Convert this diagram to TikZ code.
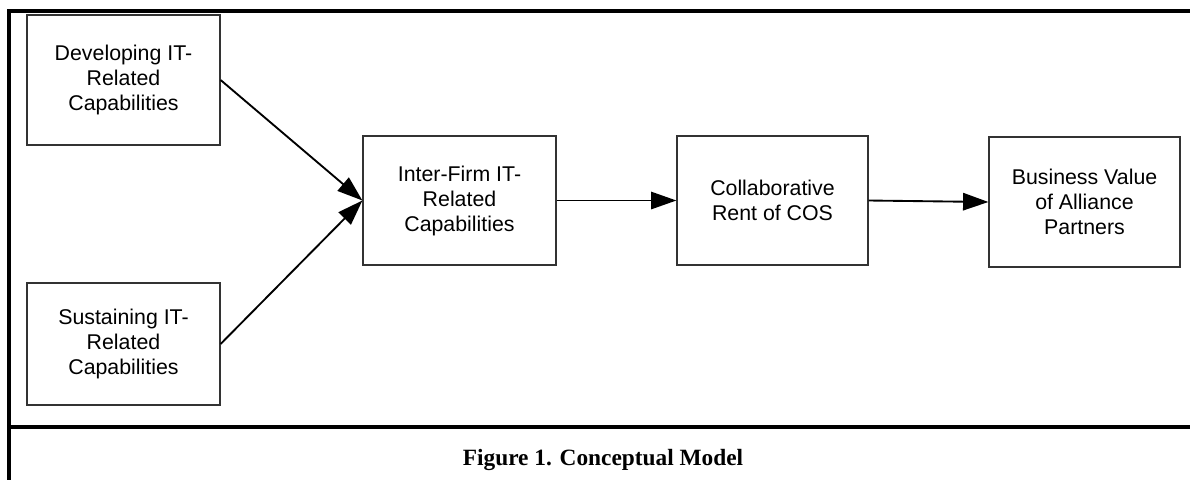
\documentclass[tikz,border=0pt]{standalone}
\usepackage{fontspec}
\setmainfont{Liberation Serif}
\setsansfont{Liberation Sans}
\usetikzlibrary{arrows.meta}

\tikzset{
  frameline/.style={line width=2.4pt, black},
  capbox/.style={draw=black!80, line width=0.9pt, rectangle, inner sep=0pt,
    align=center, font=\sffamily\fontsize{16}{18.75}\selectfont},
  link/.style={line width=1.4pt, -{Triangle[length=19pt,width=13pt]}}
}

\begin{document}
\begin{tikzpicture}[x=0.75pt, y=-0.75pt]
  \useasboundingbox (0,0) rectangle (1190,480);

  % outer frame with caption strip
  \coordinate (tl) at (9,11);
  \coordinate (tr) at (1190,11);
  \coordinate (bl) at (9,480);
  \coordinate (ml) at (9,427);
  \coordinate (mr) at (1190,427);
  \draw[frameline] (tr) -- (tl) -- (bl);
  \draw[frameline] (ml) -- (mr);

  % constructs
  \node[capbox, minimum width=144.75pt, minimum height=97.5pt] (dev) at (123.5,80)
    {Developing IT-\\Related\\Capabilities};
  \node[capbox, minimum width=144.75pt, minimum height=91.5pt] (sus) at (123.5,344)
    {Sustaining IT-\\Related\\Capabilities};
  \node[capbox, minimum width=144.75pt, minimum height=96.75pt] (inter) at (459.5,200.5)
    {Inter-Firm IT-\\Related\\Capabilities};
  \node[capbox, minimum width=143.25pt, minimum height=96.75pt] (coll) at (772.5,200.5)
    {Collaborative\\Rent of COS};
  \node[capbox, minimum width=143.25pt, minimum height=97.5pt] (bus) at (1084.5,202)
    {Business Value\\of Alliance\\Partners};

  % relationships
  \draw[link] (dev.east) -- (inter.west);
  \draw[link] (sus.east) -- (inter.west);
  \draw[link] (inter.east) -- (coll.west);
  \draw[link] (coll.east) -- (bus.west);

  % caption
  \node[font=\bfseries\fontsize{17.5}{20}\selectfont, anchor=base] (cap) at (603,465)
    {Figure 1. Conceptual Model};
\end{tikzpicture}
\end{document}
